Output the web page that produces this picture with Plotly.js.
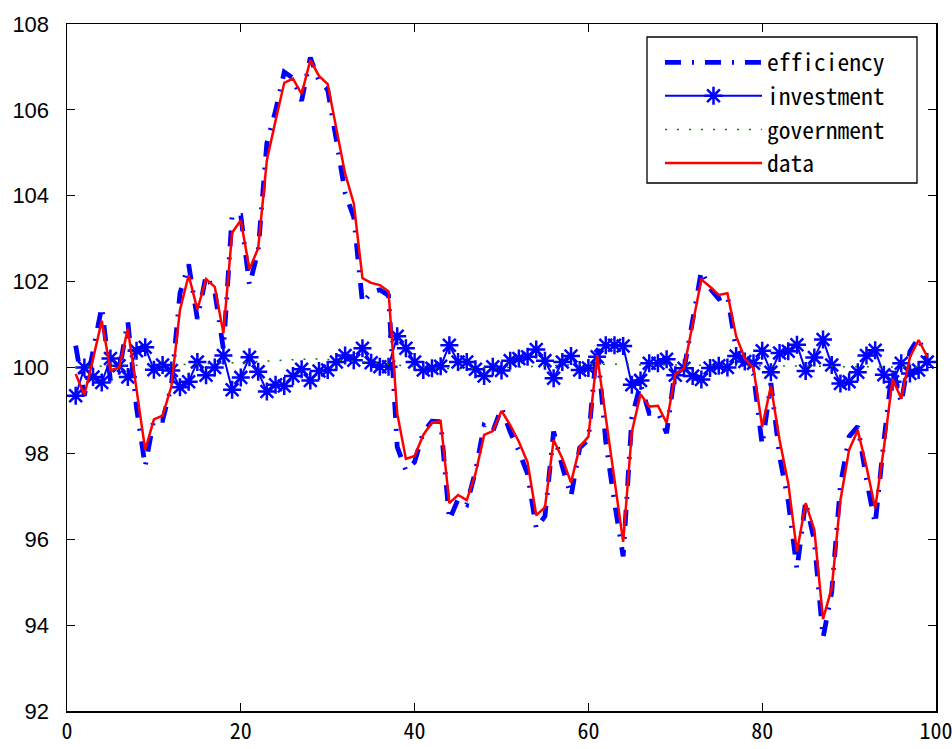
<!DOCTYPE html>
<html>
<head>
<meta charset="utf-8">
<script src="https://cdn.plot.ly/plotly-3.0.1.min.js"></script>
<style>html,body{margin:0;padding:0;background:#fff;}#chart{width:952px;height:749px;}</style>
</head>
<body>
<div id="chart"></div>
<script>
// x positions 1..99
var periods = [];
for (var i = 1; i <= 99; i++) periods.push(i);

var dataSeries = [
 99.85, 99.36, 100.2, 101.09, 99.94, 100.0, 100.9, 99.5, 98.08, 98.79,
 98.88, 99.55, 101.34, 102.15, 101.35, 102.06, 101.88, 100.8, 103.14, 103.43,
 102.29, 102.78, 104.83, 105.75, 106.63, 106.73, 106.37, 107.16, 106.79, 106.6,
 105.6, 104.52, 103.82, 102.08, 101.97, 101.92, 101.77, 98.93, 97.87, 97.94,
 98.43, 98.72, 98.75, 96.84, 97.03, 96.91, 97.52, 98.43, 98.52, 98.99,
 98.66, 98.27, 97.79, 96.56, 96.74, 98.31, 97.88, 97.32, 98.15, 98.39,
 100.29, 98.87, 97.46, 95.94, 98.5, 99.38, 99.09, 99.11, 98.71, 99.85,
 99.98, 100.99, 102.05, 101.88, 101.69, 101.73, 100.73, 100.21, 99.98, 98.62,
 99.57, 98.31, 97.3, 95.71, 96.84, 96.22, 94.14, 94.86, 96.91, 98.08,
 98.54, 97.69, 96.72, 98.12, 99.73, 99.28, 100.24, 100.64, 100.25
];

var efficiency = [
 100.51, 99.34, 100.39, 101.41, 99.69, 99.91, 101.07, 99.06, 97.7, 98.8,
 98.77, 99.56, 101.73, 102.4, 101.13, 102.14, 101.78, 100.42, 103.55, 103.54,
 101.92, 102.73, 105.23, 105.98, 106.88, 106.74, 106.21, 107.22, 106.67, 106.47,
 105.29, 104.07, 103.5, 101.5, 101.75, 101.81, 101.68, 98.15, 97.6, 97.8,
 98.49, 98.75, 98.74, 96.45, 96.93, 96.81, 97.58, 98.65, 98.51, 99.06,
 98.5, 98.05, 97.52, 96.25, 96.54, 98.51, 97.69, 97.0, 98.13, 98.32,
 100.55, 98.27, 96.86, 95.6, 98.83, 99.62, 98.93, 98.96, 98.47, 99.98,
 99.95, 101.14, 102.25, 101.84, 101.6, 101.68, 100.41, 100.02, 99.84, 98.19,
 99.64, 97.93, 96.88, 95.3, 96.89, 95.96, 93.7, 94.77, 97.26, 98.39,
 98.63, 97.39, 96.35, 98.28, 100.05, 99.17, 100.37, 100.69, 100.12
];

var investment = [
 99.34, 100.0, 99.78, 99.65, 100.21, 100.04, 99.78, 100.39, 100.47, 99.95,
 100.06, 99.93, 99.54, 99.67, 100.13, 99.82, 100.0, 100.28, 99.48, 99.77,
 100.24, 99.9, 99.44, 99.6, 99.57, 99.8, 99.96, 99.7, 99.92, 99.94,
 100.13, 100.28, 100.17, 100.45, 100.11, 100.02, 100.02, 100.73, 100.45, 100.13,
 99.94, 99.98, 100.03, 100.52, 100.13, 100.13, 99.96, 99.8, 100.02, 99.93,
 100.16, 100.21, 100.25, 100.42, 100.16, 99.75, 100.13, 100.27, 99.94, 99.99,
 100.25, 100.52, 100.52, 100.5, 99.6, 99.7, 100.1, 100.1, 100.19, 99.82,
 99.98, 99.8, 99.72, 99.99, 100.04, 100.0, 100.27, 100.14, 100.1, 100.39,
 99.89, 100.34, 100.38, 100.53, 99.92, 100.23, 100.65, 100.06, 99.63, 99.67,
 99.89, 100.28, 100.4, 99.83, 99.67, 100.1, 99.86, 99.94, 100.13
];

var government = [
 100.0, 100.02, 100.03, 100.03, 100.04, 100.05, 100.05, 100.05, 100.04, 100.04,
 100.05, 100.06, 100.07, 100.08, 100.09, 100.1, 100.1, 100.1, 100.11, 100.12,
 100.13, 100.15, 100.16, 100.17, 100.18, 100.19, 100.2, 100.2, 100.2, 100.19,
 100.18, 100.17, 100.15, 100.13, 100.11, 100.09, 100.07, 100.05, 100.03, 100.01,
 100.0, 99.99, 99.98, 99.97, 99.97, 99.97, 99.98, 99.98, 99.99, 100.0,
 100.0, 100.01, 100.02, 100.03, 100.04, 100.05, 100.06, 100.07, 100.08, 100.08,
 100.08, 100.08, 100.08, 100.07, 100.07, 100.06, 100.06, 100.05, 100.05, 100.05,
 100.05, 100.05, 100.05, 100.05, 100.05, 100.05, 100.05, 100.05, 100.04, 100.04,
 100.04, 100.04, 100.04, 100.03, 100.03, 100.03, 100.03, 100.03, 100.02, 100.02,
 100.02, 100.02, 100.02, 100.01, 100.01, 100.01, 100.01, 100.01, 100.0
];

var xTicks = [0, 20, 40, 60, 80, 100];
var yTicks = [92, 94, 96, 98, 100, 102, 104, 106, 108];

var traces = [
  {x: periods, y: efficiency, name: 'efficiency', type: 'scatter', mode: 'lines',
   line: {color: '#0000ff', width: 4.8, dash: '16px,11px,2px,11px'}},
  {x: periods, y: investment, name: 'investment', type: 'scatter', mode: 'lines+markers',
   line: {color: '#0000ff', width: 2},
   marker: {symbol: 'asterisk-open', size: 15, color: '#0000ff', line: {color: '#0000ff', width: 2.5}}},
  {x: periods, y: government, name: 'government', type: 'scatter', mode: 'lines',
   line: {color: '#008000', width: 1.5, dash: '2px,10px'}},
  {x: periods, y: dataSeries, name: 'data', type: 'scatter', mode: 'lines',
   line: {color: '#ff0000', width: 2.5}}
];

var layout = {
  width: 952, height: 749,
  margin: {l: 67, r: 16, t: 24, b: 38},
  paper_bgcolor: '#ffffff', plot_bgcolor: '#ffffff',
  showlegend: true,
  legend: {
    x: (660 - 67) / 869, y: (711 - 40.5) / 687, xanchor: 'left', yanchor: 'top',
    bgcolor: 'rgba(0,0,0,0)', borderwidth: 0,
    font: {family: '"Noto Sans Mono CJK JP", "DejaVu Sans Mono", monospace', size: 23.5, color: '#000'},
    itemwidth: 97, tracegroupgap: 0
  },
  shapes: [{
    type: 'rect', xref: 'paper', yref: 'paper', layer: 'above',
    x0: (647 - 67) / 869, x1: (917 - 67) / 869,
    y0: (711 - 183) / 687, y1: (711 - 37) / 687,
    line: {color: '#000', width: 1.3}, fillcolor: '#ffffff'
  }],
  xaxis: {
    range: [0, 100], tickvals: xTicks, ticktext: xTicks.map(String),
    showline: true, linecolor: '#000', linewidth: 1.5, mirror: 'ticks',
    ticks: 'inside', ticklen: 8, tickwidth: 1.2, tickcolor: '#000',
    showgrid: false, zeroline: false, ticklabeloverflow: 'allow',
    tickfont: {family: '"Noto Sans Mono CJK JP", "Liberation Sans Narrow", sans-serif', size: 22, color: '#000'}
  },
  yaxis: {
    range: [92, 108], tickvals: yTicks, ticktext: yTicks.map(String),
    showline: true, linecolor: '#000', linewidth: 1.5, mirror: 'ticks',
    ticks: 'inside', ticklen: 8, tickwidth: 1.2, tickcolor: '#000',
    showgrid: false, zeroline: false, ticklabelstandoff: 12,
    tickfont: {family: '"Liberation Sans", Arial, sans-serif', size: 22, color: '#000'}
  }
};

Plotly.newPlot('chart', traces, layout, {displayModeBar: false, staticPlot: true});
</script>
</body>
</html>
